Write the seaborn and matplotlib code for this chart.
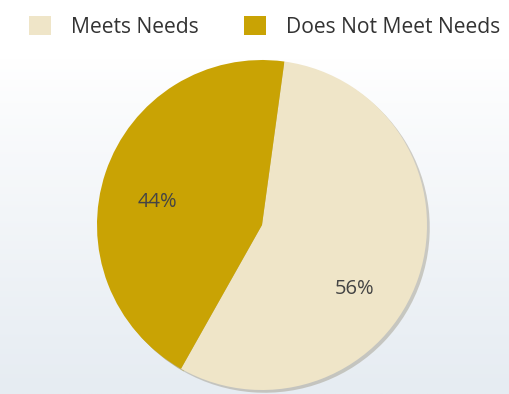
import numpy as np
import matplotlib
matplotlib.use("Agg")
import matplotlib.pyplot as plt
import seaborn as sns

categories = ["Meets Needs", "Does Not Meet Needs"]
values = [56, 44]
pct_labels = ["56%", "44%"]

sns.set_theme(style="white")
plt.rcParams["font.family"] = ["Open Sans", "DejaVu Sans"]

colors = ["#EFE5C8", "#C9A304"]

fig = plt.figure(figsize=(5.10, 3.94), dpi=100)
W, H = 510, 394

# background gradient
bg = fig.add_axes([0, 0, 1, 1], zorder=0)
grad = np.linspace(0, 1, 256)
grad = np.clip((grad - 0.15) / 0.85, 0, 1) ** 0.9
top = np.array([1.0, 1.0, 1.0])
bot = np.array([230, 236, 242]) / 255
img = top[None, None, :] * (1 - grad[:, None, None]) + bot[None, None, :] * grad[:, None, None]
img = np.repeat(img, 2, axis=1)
bg.imshow(img, aspect="auto", extent=[0, 1, 0, 1], origin="upper")
bg.set_axis_off()

# pie axes: center (262,225) px from top, radius 165 px
cx, cy, r = 262, 225, 165
ax = fig.add_axes([(cx - r) / W, (H - cy - r) / H, 2 * r / W, 2 * r / H], zorder=1)
ax.patch.set_alpha(0)
wedges, _ = ax.pie(values, colors=colors, startangle=-119.4, counterclock=True,
                   radius=1, wedgeprops=dict(linewidth=0),
                   shadow=dict(ox=0.012, oy=-0.012, shade=0.35, alpha=0.45))
ax.set_xlim(-1, 1)
ax.set_ylim(-1, 1)
ax.set_aspect("auto")
ax.set_axis_off()

label_pos = {"56%": (0.68, -34.5), "44%": (0.65, 167.6)}
for lab in pct_labels:
    rr, ang = label_pos[lab]
    ax.text(rr * np.cos(np.radians(ang)), rr * np.sin(np.radians(ang)), lab,
            ha="center", va="center", fontsize=14.5, color="#444444")

fs = 15.2
fpx = fs * 100 / 72
leg = fig.legend(wedges, categories, loc="upper left",
                 bbox_to_anchor=(29 / W, 1 - 16 / H),
                 ncol=2, frameon=False, fontsize=fs,
                 handlelength=22 / fpx, handleheight=22 / fpx,
                 handletextpad=20 / fpx, columnspacing=45 / fpx,
                 borderaxespad=0, borderpad=0)
for t in leg.get_texts():
    t.set_color("#333333")
for h in leg.legend_handles:
    h.set_edgecolor("none")

fig.savefig("out.png", dpi=100)
